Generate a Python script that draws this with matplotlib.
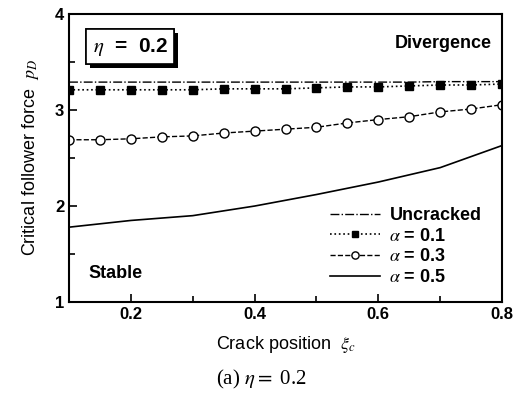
import numpy as np
import matplotlib.pyplot as plt
from matplotlib import patheffects
from matplotlib.ticker import MultipleLocator

plt.rcParams['font.family'] = ['Liberation Sans', 'DejaVu Sans']
plt.rcParams['mathtext.fontset'] = 'stix'

# crack position and critical follower force
xi = [0.10, 0.15, 0.20, 0.25, 0.30, 0.35, 0.40, 0.45,
      0.50, 0.55, 0.60, 0.65, 0.70, 0.75, 0.80]
p_uncracked = [3.29, 3.29, 3.29, 3.29, 3.29, 3.29, 3.29, 3.29,
               3.29, 3.29, 3.29, 3.29, 3.295, 3.295, 3.295]
p_a01 = [3.21, 3.21, 3.21, 3.21, 3.21, 3.22, 3.22, 3.22,
         3.23, 3.24, 3.24, 3.25, 3.26, 3.26, 3.27]
p_a03 = [2.69, 2.69, 2.70, 2.72, 2.73, 2.76, 2.78, 2.80,
         2.82, 2.865, 2.90, 2.93, 2.98, 3.01, 3.055]
xi_a05 = [0.1, 0.2, 0.3, 0.4, 0.5, 0.6, 0.7, 0.8]
p_a05 = [1.78, 1.85, 1.90, 2.00, 2.12, 2.25, 2.40, 2.63]

fig = plt.figure(figsize=(5.23, 3.97), dpi=100)
ax = fig.add_axes([0.132, 0.239, 0.828, 0.726])

ax.plot(xi, p_uncracked, color='black', linestyle='-.', linewidth=1.0, label='Uncracked')
ax.plot(xi, p_a01, color='black', linestyle=':', linewidth=1.2, marker='s', markersize=6,
        label=r'$\alpha$ = 0.1')
ax.plot(xi, p_a03, color='black', linestyle='--', linewidth=1.0, marker='o', markersize=6.5,
        markerfacecolor='white', label=r'$\alpha$ = 0.3')
ax.plot(xi_a05, p_a05, color='black', linestyle='-', linewidth=1.2, label=r'$\alpha$ = 0.5')

ax.set_xlim(0.1, 0.8)
ax.set_ylim(1, 4)
ax.xaxis.set_major_locator(MultipleLocator(0.2))
ax.xaxis.set_minor_locator(MultipleLocator(0.1))
ax.yaxis.set_major_locator(MultipleLocator(1))
ax.yaxis.set_minor_locator(MultipleLocator(0.5))
ax.tick_params(which='both', direction='in', labelsize=12, width=1.2)
ax.tick_params(which='major', length=6)
ax.tick_params(which='minor', length=4)
for lab in ax.get_xticklabels() + ax.get_yticklabels():
    lab.set_fontweight('bold')
for sp in ax.spines.values():
    sp.set_linewidth(1.5)

ax.set_xlabel(r'Crack position  $\xi_c$', fontsize=13, labelpad=9)
ax.set_ylabel(r'Critical follower force  $p_D$', fontsize=13, labelpad=10)

ax.text(0.705, 3.69, 'Divergence', fontsize=13, fontweight='bold', ha='center', va='center')
ax.text(0.175, 1.3, 'Stable', fontsize=13, fontweight='bold', ha='center', va='center')

t = ax.text(0.138, 3.66, r'$\eta$  =  0.2', fontsize=15, fontweight='bold', ha='left', va='center',
            bbox=dict(boxstyle='square,pad=0.3', facecolor='white', edgecolor='black', linewidth=1.2))
t.get_bbox_patch().set_path_effects([
    patheffects.withSimplePatchShadow(offset=(3, -3), shadow_rgbFace='black', alpha=1.0),
    patheffects.Normal()])

leg = ax.legend(loc='lower right', frameon=False, fontsize=13, handlelength=2.8,
                handletextpad=0.5, labelspacing=0.2, markerscale=0.8,
                bbox_to_anchor=(0.99, 0.0))
for txt in leg.get_texts():
    txt.set_fontweight('bold')

fig.text(0.5, 0.045, r'(a) $\eta=$ 0.2', fontsize=15, ha='center', va='center',
         family='Liberation Serif')

fig.savefig('out.png', dpi=100)
